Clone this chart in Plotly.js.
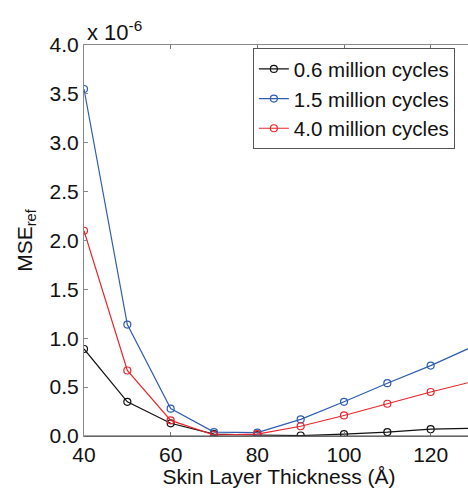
<!DOCTYPE html>
<html>
<head>
<meta charset="utf-8">
<script src="https://cdn.plot.ly/plotly-3.0.1.min.js"></script>
<style>
html,body{margin:0;padding:0;overflow:hidden;background:#fff;}
#chart{width:480px;height:488px;}
</style>
</head>
<body>
<div id="chart"></div>
<script>
const thickness = [40, 50, 60, 70, 80, 90, 100, 110, 120, 130];
const mse06 = [0.89, 0.35, 0.13, 0.02, 0.01, 0.005, 0.02, 0.04, 0.07, 0.08];
const mse15 = [3.55, 1.14, 0.28, 0.04, 0.035, 0.17, 0.35, 0.54, 0.72, 0.92];
const mse40 = [2.10, 0.67, 0.16, 0.01, 0.02, 0.10, 0.21, 0.33, 0.45, 0.56];
const seriesNames = ['0.6 million cycles', '1.5 million cycles', '4.0 million cycles'];
const seriesColors = ['#111111', '#2f5db0', '#e8262b'];
const xTicks = [40, 60, 80, 100, 120];
const yTicks = [0, 0.5, 1, 1.5, 2, 2.5, 3, 3.5, 4];
const yTickLabels = ['0.0', '0.5', '1.0', '1.5', '2.0', '2.5', '3.0', '3.5', '4.0'];

const FONT = 'Liberation Sans, Arial, sans-serif';
const allY = [mse06, mse15, mse40];
const traces = allY.map((ys, i) => ({
  x: thickness, y: ys, name: seriesNames[i], type: 'scatter', mode: 'lines+markers',
  line: {color: seriesColors[i], width: 1.2},
  marker: {symbol: 'circle-open', size: 7, color: seriesColors[i], line: {width: 1.2, color: seriesColors[i]}},
  cliponaxis: true
}));

const layout = {
  width: 480, height: 488,
  margin: {l: 84, r: 6, t: 45, b: 52},
  paper_bgcolor: '#fff', plot_bgcolor: '#fff',
  font: {family: FONT, color: '#111', size: 21},
  showlegend: true,
  xaxis: {
    range: [40, 130], tickvals: xTicks, ticktext: xTicks.map(String),
    showgrid: false, zeroline: false,
    showline: true, linecolor: '#8a8a8a', linewidth: 1, mirror: 'ticks',
    ticks: 'inside', ticklen: 4, tickcolor: '#777',
    tickfont: {size: 21, family: FONT, color: '#111'},
    title: {text: 'Skin Layer Thickness (Å)', font: {size: 21, family: FONT, color: '#111'}, standoff: 5}
  },
  yaxis: {
    range: [0, 4], tickvals: yTicks, ticktext: yTickLabels,
    showgrid: false, zeroline: false,
    showline: true, linecolor: '#888', linewidth: 1, mirror: 'ticks',
    ticks: 'inside', ticklen: 4, tickcolor: '#888',
    tickfont: {size: 21, family: FONT, color: '#111'},
    title: {text: 'MSE<sub>ref</sub>', font: {size: 21, family: FONT, color: '#111'}, standoff: 11}
  },
  legend: {
    x: 0.433, y: 0.992, xanchor: 'left', yanchor: 'top',
    bgcolor: '#fff', bordercolor: '#555', borderwidth: 1,
    font: {size: 20.5, family: FONT, color: '#111'},
    itemwidth: 30, tracegroupgap: 0
  },
  shapes: [{
    type: 'line', xref: 'paper', yref: 'paper', x0: 0, x1: 1, y0: 0, y1: 0,
    line: {color: '#444', width: 1}
  }],
  annotations: [{
    xref: 'paper', yref: 'paper', x: 0, y: 1, xanchor: 'left', yanchor: 'bottom',
    xshift: 1, yshift: -2, showarrow: false,
    text: 'x 10<sup>-6</sup>', font: {size: 22, family: FONT, color: '#111'}
  }]
};

Plotly.newPlot('chart', traces, layout, {displayModeBar: false, staticPlot: true});
</script>
</body>
</html>
